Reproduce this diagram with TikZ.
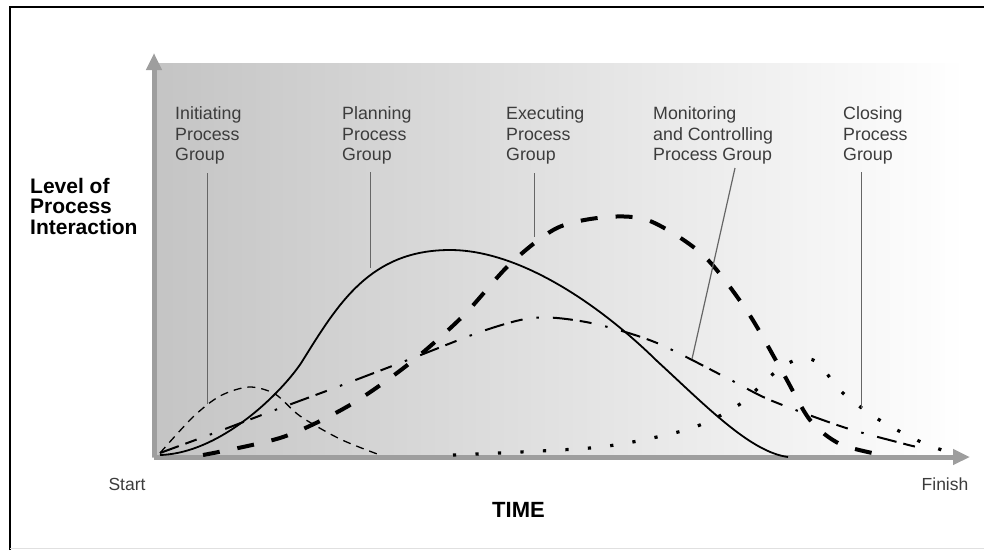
\documentclass[tikz,border=0pt]{standalone}
\usepackage{fontspec}
\setmainfont{Liberation Sans}
\usetikzlibrary{arrows.meta}
\definecolor{axisgray}{HTML}{9E9E9E}
\definecolor{leadgray}{HTML}{666666}
\definecolor{labelgray}{HTML}{3C3C3C}
\definecolor{shadeleft}{HTML}{C4C4C4}
\definecolor{shademid}{HTML}{E0E0E0}
\tikzset{
  axisline/.style={line width=5pt, draw=axisgray, -{Triangle[length=17pt,width=15pt]}},
  leader/.style={draw=leadgray, line width=1.2pt},
  grouplabel/.style={anchor=base west, inner sep=0pt, align=left, text=labelgray, font=\fontsize{17.8}{20.3}\selectfont},
  boldlabel/.style={inner sep=0pt, align=left, font=\bfseries\fontsize{21}{20.3}\selectfont},
  endlabel/.style={inner sep=0pt, text=labelgray, font=\fontsize{17.5}{20}\selectfont},
  initcurve/.style={line width=1.3pt, dash pattern=on 8pt off 6pt},
  plancurve/.style={line width=1.8pt},
  execcurve/.style={line width=4pt, dash pattern=on 17pt off 18pt},
  moncurve/.style={line width=2pt, dash pattern=on 20pt off 7pt on 12pt off 14pt on 2.5pt off 14pt},
  closecurve/.style={line width=3.2pt, dash pattern=on 3.2pt off 19.3pt}
}
\begin{document}
\begin{tikzpicture}[x=1pt,y=-1pt]
\useasboundingbox (0,0) rectangle (984,550);
% frame
\draw[line width=2pt] (10,550) -- (10,7) -- (984,7);
\draw[black!12, line width=1pt] (10,548) -- (984,548);
% shaded area
\shade[left color=shadeleft, middle color=shademid, right color=white] (152,63) rectangle (965,457);
% axes
\coordinate (origin) at (154,457);
\coordinate (ytip) at (154,53);
\coordinate (xtip) at (970,457);
\draw[axisline] (origin) -- (ytip);
\draw[axisline] (origin) -- (xtip);
% curves
\draw[initcurve] plot[smooth] coordinates {(160,453) (193,417) (220,396) (249,387) (275,394) (300,416) (340,439) (380,455)};
\draw[plancurve] (160,455) .. controls (225,453) and (288,385) .. (303,360)
  .. controls (338,304) and (370,250) .. (450,250)
  .. controls (520,250) and (600,305) .. (657,361)
  .. controls (705,405) and (750,452) .. (788,457);
\draw[execcurve] plot[smooth] coordinates {(203,455) (283,437) (350,405) (410,363) (463,316) (510,264) (557,228) (607,217) (650,221) (703,255) (747,311) (783,373) (810,420) (840,444) (882,455)};
\draw[moncurve] plot[smooth] coordinates {(160,453) (217,432) (267,413) (337,387) (413,358) (480,332) (525,319) (557,318) (600,325) (657,343) (727,378) (770,400) (843,427) (897,442) (925,449)};
\draw[closecurve] plot[smooth] coordinates {(453,455) (590,448) (657,437) (700,425) (740,404) (773,374) (793,361) (815,361) (844,394) (881,421) (921,442) (945,451)};
% labels (base = last line)
\node[grouplabel] (init) at (175,160.5) {Initiating\\Process\\Group};
\node[grouplabel] (plan) at (342,160.5) {Planning\\Process\\Group};
\node[grouplabel] (exec) at (506,160.5) {Executing\\Process\\Group};
\node[grouplabel] (mon) at (653,160.5) {Monitoring\\and Controlling\\Process Group};
\node[grouplabel] (close) at (843,160.5) {Closing\\Process\\Group};
\node[boldlabel, anchor=base west] (level) at (30,234) {Level of\\Process\\Interaction};
\node[endlabel] (start) at (127,484) {Start};
\node[endlabel] (finish) at (945,484) {Finish};
\node[boldlabel, font=\bfseries\fontsize{22}{22}\selectfont] (time) at (518.5,510) {TIME};
% leader lines
\coordinate (initA) at (207.7,173);
\coordinate (initB) at (207.7,404);
\coordinate (planA) at (370.7,172);
\coordinate (planB) at (370.7,268);
\coordinate (execA) at (534.5,173);
\coordinate (execB) at (534.5,237);
\coordinate (monA) at (735,168);
\coordinate (monB) at (692,359);
\coordinate (closeA) at (861.5,172);
\coordinate (closeB) at (861.5,408);
\draw[leader] (initA) -- (initB);
\draw[leader] (planA) -- (planB);
\draw[leader] (execA) -- (execB);
\draw[leader] (monA) -- (monB);
\draw[leader] (closeA) -- (closeB);
\end{tikzpicture}
\end{document}
